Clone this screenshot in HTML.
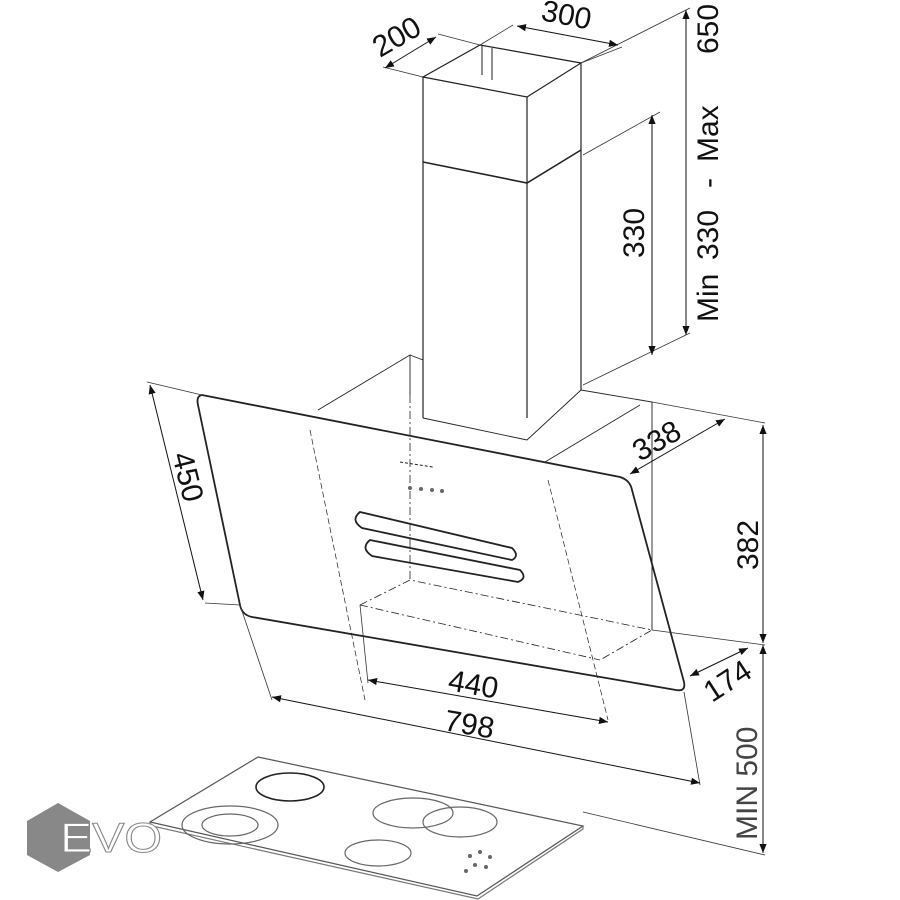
<!DOCTYPE html>
<html><head><style>
body{margin:0;background:#fff;}
svg{display:block;font-family:"Liberation Sans",sans-serif;}
</style></head><body>
<svg width="900" height="900" viewBox="0 0 900 900" xmlns="http://www.w3.org/2000/svg">
<defs>
<marker id="a" viewBox="0 0 10 10" refX="10" refY="5" markerWidth="9" markerHeight="9" orient="auto-start-reverse"><path d="M0,1 L10,5 L0,9z" fill="#111"/></marker>
</defs>
<g fill="none" stroke="#222" stroke-width="1.2">
<path d="M423,77 L527,97 L581,63 L480,45 Z"/>
<path d="M423,77 V418 M527,97 V418 M581,63 V390"/>
<path d="M423,162 L527,183 L581,150" stroke-width="1.6"/>
<path d="M482,45 V75 M492,48 V80" stroke-width="1"/>
<path d="M318,410 L410,355 V395 M410,355 L423,360" stroke-width="0.9"/>
<path d="M423,418 L527,440 L581,390 L652,402 V630" stroke-width="0.9"/>
<path d="M545,462 L640,405" stroke-width="0.9"/>
<path d="M360,605 L410,580 L652,630 L600,660 M360,605 L600,660" stroke-dasharray="8,3,2,3" stroke-width="0.8"/>
<path d="M410,395 V580" stroke-dasharray="8,3,2,3" stroke-width="0.8"/>
<path d="M310,430 L365,700 M548,480 L608,720" stroke-dasharray="6,3" stroke-width="0.7"/>
<path d="M202,395 L620,477 Q630,480 632,490 L684,682 Q686,692 676,690 L252,617 Q242,615 240,605 L198,405 Q196,396 202,395 Z" stroke-width="1.8"/>
<path d="M360,512 L512,548 Q520,556 512,560 L362,528 Q350,520 360,512 Z" stroke-width="1.8"/>
<path d="M370,540 L520,570 Q528,578 518,582 L372,556 Q360,548 370,540 Z" stroke-width="1.8"/>
<path d="M400,462 L433,467" stroke-width="1" stroke-dasharray="3,2"/>
<g stroke-width="0.8" stroke="#333">
<path d="M423,77 L383,67 M480,45 L438,34"/>
<path d="M480,45 L513,25 M581,63 L622,47"/>
<path d="M581,63 L690,8 M583,385 L690,333 M583,155 L660,112"/>
<path d="M147,382 L202,395 M205,603 L240,605 M652,402 L765,423 M652,630 L765,645"/>
<path d="M240,605 L272,700 M360,605 L368,683 M684,692 L700,785"/>
<path d="M583,812 L765,855"/>
</g>
<g stroke="#111" stroke-width="1" marker-start="url(#a)" marker-end="url(#a)">
<line x1="385" y1="68" x2="436" y2="37"/>
<line x1="517" y1="26" x2="618" y2="45"/>
<line x1="686" y1="10" x2="686" y2="335"/>
<line x1="652" y1="115" x2="652" y2="355"/>
<line x1="150" y1="385" x2="203" y2="600"/>
<line x1="630" y1="474" x2="725" y2="419"/>
<line x1="763" y1="425" x2="763" y2="643"/>
<line x1="763" y1="645" x2="763" y2="853"/>
<line x1="690" y1="676" x2="748" y2="648"/>
<line x1="368" y1="680" x2="608" y2="722"/>
<line x1="272" y1="697" x2="700" y2="783"/>
</g>
<path d="M258,757 L583,826 L477,896 L150,822 Z" stroke="#555"/>
<path d="M150,822 L152,826 L478,899 L583,829 V826" stroke="#777"/>
<ellipse cx="290" cy="787" rx="34" ry="14" stroke-width="1.6"/>
<ellipse cx="230" cy="825" rx="48" ry="19" stroke="#666"/>
<ellipse cx="230" cy="825" rx="28" ry="11" stroke="#666"/>
<ellipse cx="413" cy="813" rx="40" ry="15" stroke="#666"/>
<ellipse cx="460" cy="822" rx="37" ry="15" stroke="#666"/>
<ellipse cx="378" cy="853" rx="33" ry="13" stroke="#666"/>
</g>
<g fill="#666"><circle cx="432" cy="490" r="2"/><circle cx="421" cy="489" r="2"/><circle cx="410" cy="488" r="2"/><circle cx="442" cy="491" r="2"/>
<circle cx="470" cy="856" r="2"/><circle cx="480" cy="852" r="2"/><circle cx="490" cy="857" r="2"/><circle cx="475" cy="865" r="2"/><circle cx="486" cy="867" r="2"/><circle cx="466" cy="871" r="2"/></g>
<polygon points="58,803 90,821 90,855 58,872 27,855 27,821" fill="#888"/>
<text x="60" y="852" font-size="42" fill="#fff" stroke="#888" stroke-width="1" textLength="102" lengthAdjust="spacingAndGlyphs">EVO</text>
<g fill="#111" font-size="30">
<text transform="translate(380,58) rotate(-30)">200</text>
<text transform="translate(540,20) rotate(11)">300</text>
<text transform="translate(718,322) rotate(-90)"><tspan x="0">Min</tspan><tspan x="62">330</tspan><tspan x="134">-</tspan><tspan x="160">Max</tspan><tspan x="268">650</tspan></text>
<text transform="translate(644,258) rotate(-90)">330</text>
<text transform="translate(172,455) rotate(76)">450</text>
<text transform="translate(640,462) rotate(-30)">338</text>
<text transform="translate(758,570) rotate(-90)">382</text>
<text transform="translate(712,703) rotate(-33)">174</text>
<text transform="translate(447,690) rotate(10)">440</text>
<text transform="translate(443,730) rotate(10)">798</text>
<text transform="translate(757,840) rotate(-90)" fill="#444">MIN 500</text>
</g>
</svg>
</body></html>
